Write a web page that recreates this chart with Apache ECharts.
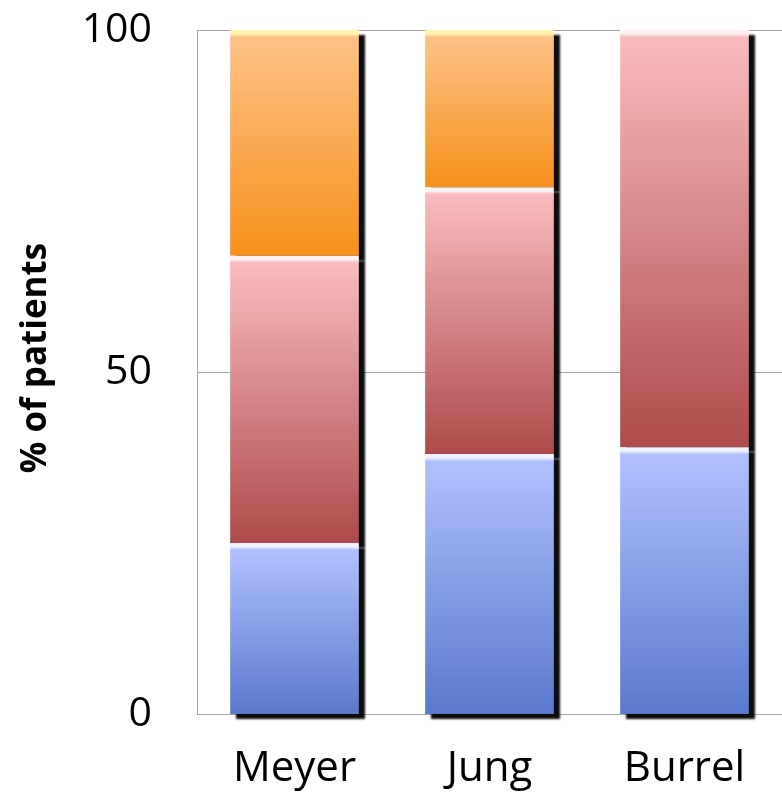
<!DOCTYPE html>
<html>
<head>
<meta charset="utf-8">
<script src="https://cdn.jsdelivr.net/npm/echarts@6/dist/echarts.min.js"></script>
<style>
  html, body { margin: 0; padding: 0; background: #fff; }
  #chart { width: 782px; height: 812px; }
</style>
</head>
<body>
<div id="chart"></div>
<script>
// Share of patients per cohort, stacked bottom to top
const categories = ['Meyer', 'Jung', 'Burrel'];
const blueValues = [25, 38, 39];
const redValues = [42, 39, 61];
const orangeValues = [33, 23, 0];
const yTicks = [0, 50, 100];

const chart = echarts.init(document.getElementById('chart'));

const gridTop = 30, gridBottom = 98;
const plotHeight = 812 - gridTop - gridBottom;

// Each segment: bevel highlight at its top edge, then light-to-dark fill
function segmentStyle(value, hi, light, dark) {
  const px = value / 100 * plotHeight;
  const h = px > 0 ? Math.min(0.5, 7 / px) : 0.05;
  return {
    color: new echarts.graphic.LinearGradient(0, 0, 0, 1, [
      { offset: 0, color: hi },
      { offset: h * 0.55, color: hi },
      { offset: h, color: light },
      { offset: 1, color: dark }
    ]),
    shadowColor: 'rgba(0,0,0,0.95)',
    shadowBlur: 2,
    shadowOffsetX: 6,
    shadowOffsetY: 5
  };
}

function makeSeries(name, values, hi, light, dark, z) {
  return {
    name: name,
    type: 'bar',
    stack: 'total',
    barWidth: '66%',
    z: z,
    data: values.map(v => ({ value: v, itemStyle: segmentStyle(v, hi, light, dark) }))
  };
}

chart.setOption({
  animation: false,
  grid: { left: 197, right: 0, top: gridTop, bottom: gridBottom },
  xAxis: {
    type: 'category',
    data: categories,
    axisLine: { show: true, lineStyle: { color: '#a6a6a6', width: 1 } },
    axisTick: { show: false },
    axisLabel: {
      margin: 34,
      fontFamily: 'Open Sans',
      fontSize: 42,
      color: '#000'
    }
  },
  yAxis: {
    type: 'value',
    min: yTicks[0],
    max: yTicks[yTicks.length - 1],
    interval: 50,
    name: '% of patients',
    nameLocation: 'middle',
    nameGap: 143,
    nameRotate: 90,
    nameTextStyle: {
      fontFamily: 'Open Sans',
      fontWeight: 'bold',
      fontSize: 35,
      color: '#000',
      padding: [0, 0, 0, 28]
    },
    axisLine: { show: true, lineStyle: { color: '#a6a6a6', width: 1 } },
    axisTick: { show: false },
    axisLabel: {
      margin: 45,
      fontFamily: 'Open Sans',
      fontSize: 41,
      color: '#000'
    },
    splitLine: { show: true, lineStyle: { color: '#a6a6a6', width: 1 } }
  },
  series: [
    makeSeries('blue', blueValues, '#eef3ff', '#b0c0fe', '#5a79cc', 5),
    makeSeries('red', redValues, '#fff0f2', '#f9bcbe', '#ae4a4b', 4),
    makeSeries('orange', orangeValues, '#fff4b0', '#fdc287', '#f7901c', 3)
  ]
});
</script>
</body>
</html>
